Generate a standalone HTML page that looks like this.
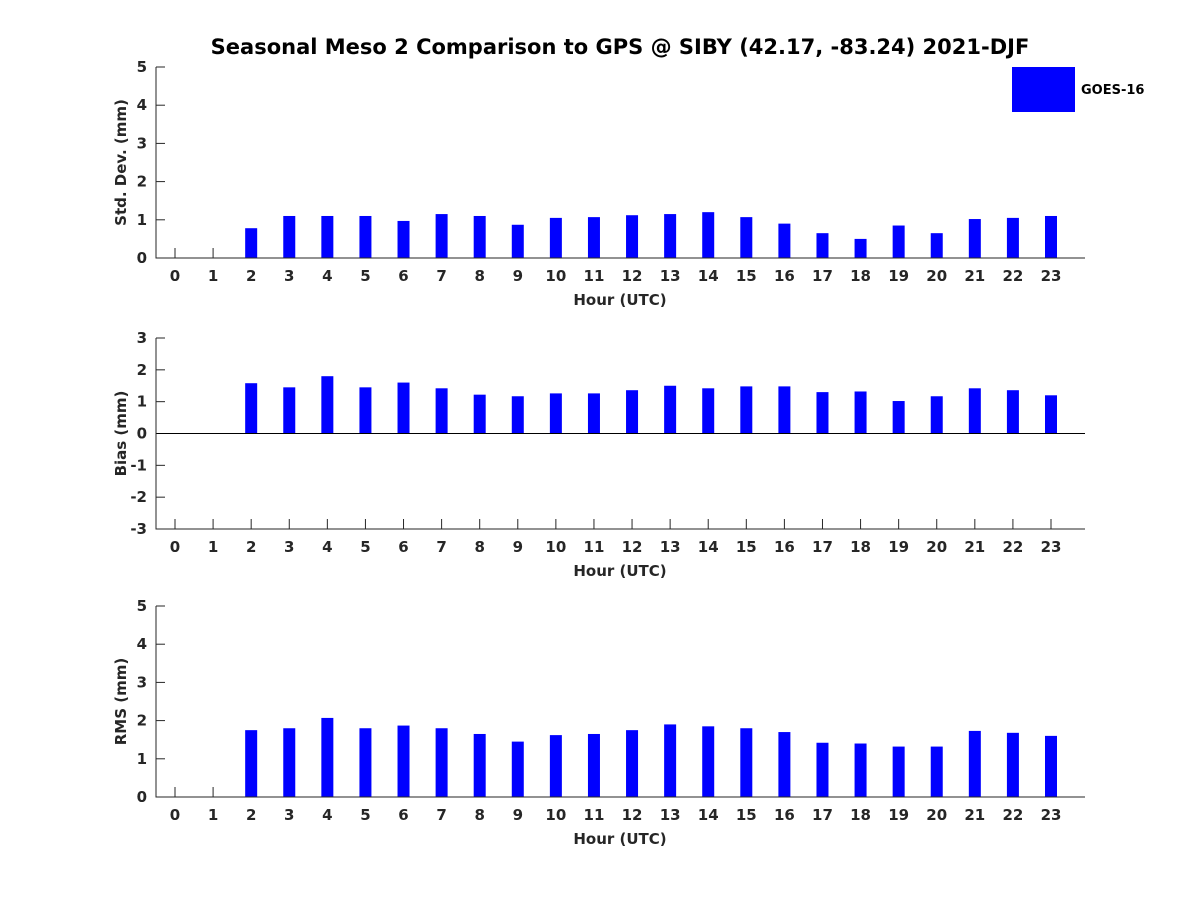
<!DOCTYPE html>
<html><head><meta charset="utf-8"><style>body{margin:0;background:#fff}svg{display:block;font-family:"DejaVu Sans","Liberation Sans",sans-serif;font-weight:bold}</style></head>
<body>
<svg id="c" width="1200" height="900">
<text x="620" y="54" text-anchor="middle" font-size="21" fill="#000">Seasonal Meso 2 Comparison to GPS @ SIBY (42.17, -83.24) 2021-DJF</text>
<rect x="1012" y="67" width="63" height="45" fill="#0000ff"/>
<text x="1081" y="94" font-size="13" fill="#000">GOES-16</text>
</svg>
<script>
const hours=[0,1,2,3,4,5,6,7,8,9,10,11,12,13,14,15,16,17,18,19,20,21,22,23];
const stdVals=[null,null,0.78,1.1,1.1,1.1,0.97,1.15,1.1,0.87,1.05,1.07,1.12,1.15,1.2,1.07,0.9,0.65,0.5,0.85,0.65,1.02,1.05,1.1];
const biasVals=[null,null,1.58,1.45,1.8,1.45,1.6,1.42,1.22,1.17,1.26,1.26,1.36,1.5,1.42,1.48,1.48,1.3,1.32,1.02,1.17,1.42,1.36,1.2];
const rmsVals=[null,null,1.75,1.8,2.07,1.8,1.87,1.8,1.65,1.45,1.62,1.65,1.75,1.9,1.85,1.8,1.7,1.42,1.4,1.32,1.32,1.73,1.68,1.6];
const stdTicks=[0,1,2,3,4,5];
const biasTicks=[-3,-2,-1,0,1,2,3];
const rmsTicks=[0,1,2,3,4,5];
const svg=document.getElementById('c');
const NS='http://www.w3.org/2000/svg';
function mk(t,a){const e=document.createElementNS(NS,t);for(const k in a)e.setAttribute(k,a[k]);svg.appendChild(e);return e;}
const X0=156,X1=1085;
function xs(h){return 175+h*(1051-175)/23;}
function panel(name,top,bot,vals,ticks,ylabel){
  const ymin=ticks[0],ymax=ticks[ticks.length-1];
  const ys=v=>bot-(v-ymin)/(ymax-ymin)*(bot-top);
  hours.forEach((h,i)=>{
    const t=mk('line',{x1:xs(h),x2:xs(h),y1:bot,y2:bot-10,stroke:'#262626','stroke-width':1});
    
    
    const l=mk('text',{x:xs(h),y:bot+23,'text-anchor':'middle','font-size':15,fill:'#262626'});
    l.textContent=h;
    
    
  });
  ticks.forEach(v=>{
    const t=mk('line',{x1:X0,x2:X0+9,y1:ys(v),y2:ys(v),stroke:'#262626','stroke-width':1});
    
    
    const l=mk('text',{x:X0-9,y:ys(v)+5,'text-anchor':'end','font-size':15,fill:'#262626'});
    l.textContent=v;
    
    
  });
  const base=ys(Math.max(ymin,0));
  vals.forEach((v,i)=>{
    if(v==null)return;
    const y=ys(v);
    const b=mk('rect',{x:xs(hours[i])-6,y:Math.min(y,base),width:12,height:Math.abs(base-y),fill:'#0000ff'});
    
    
  });
  if(ymin<0){
    const z=mk('line',{x1:X0,x2:X1,y1:base,y2:base,stroke:'#000','stroke-width':1});
    
    
  }
  const ax=mk('path',{d:`M${X0} ${top}V${bot}H${X1}`,fill:'none',stroke:'#262626','stroke-width':1});
  
  
  const xt=mk('text',{x:620,y:bot+47,'text-anchor':'middle','font-size':15,fill:'#262626'});
  xt.textContent='Hour (UTC)';
  
  
  const cy=(top+bot)/2;
  const yt=mk('text',{x:126,y:cy,'text-anchor':'middle','font-size':15,fill:'#262626',transform:`rotate(-90 126 ${cy})`});
  yt.textContent=ylabel;
  
  
}
panel('std-dev',67,258,stdVals,stdTicks,'Std. Dev. (mm)');
panel('bias',338,529,biasVals,biasTicks,'Bias (mm)');
panel('rms',606,797,rmsVals,rmsTicks,'RMS (mm)');
</script>
</body></html>
